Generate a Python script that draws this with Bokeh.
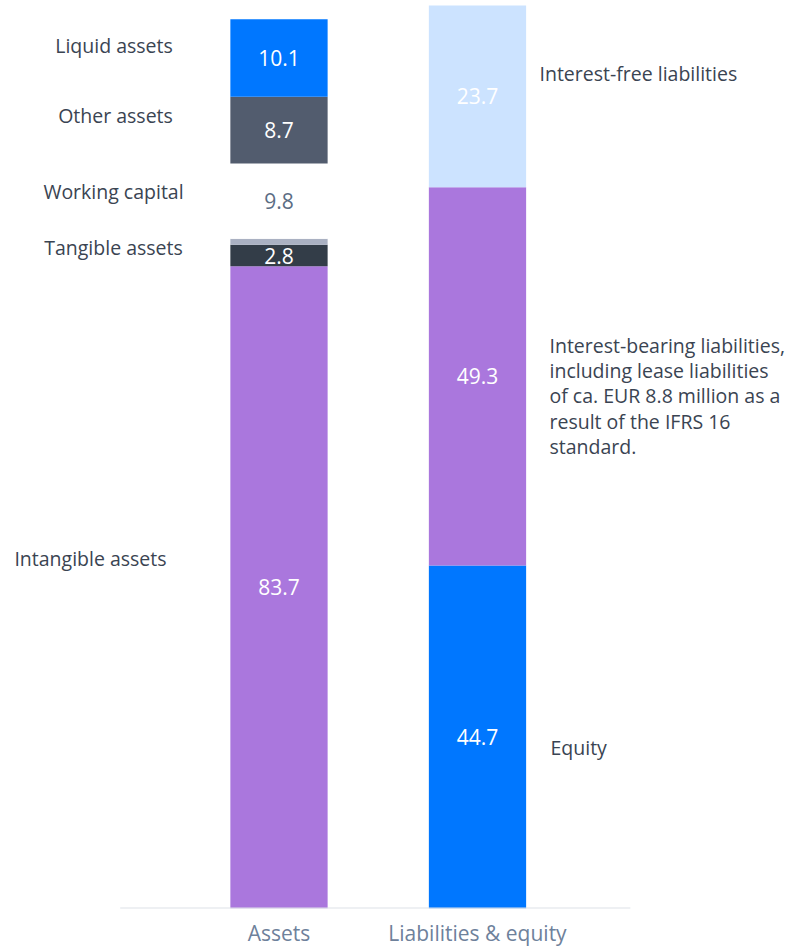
import numpy as np
from bokeh.plotting import figure
from bokeh.models import Range1d, FixedTicker, ColumnDataSource
from bokeh.core.properties import value
from bokeh.embed import file_html
from bokeh.resources import INLINE

# ---- data ----
categories = ["Assets", "Liabilities & equity"]

asset_names = ["Intangible assets", "Tangible assets", "", "Working capital", "Other assets", "Liquid assets"]
asset_values = [83.7, 2.8, 0.8, 9.8, 8.7, 10.1]
asset_value_labels = ["83.7", "2.8", "", "9.8", "8.7", "10.1"]

liab_names = ["Equity",
              "Interest-bearing liabilities,\nincluding lease liabilities\nof ca. EUR 8.8 million as a\nresult of the IFRS 16\nstandard.",
              "Interest-free liabilities"]
liab_values = [44.7, 49.3, 23.7]
liab_value_labels = ["44.7", "49.3", "23.7"]

# ---- styles ----
asset_colors = ["#aa77dd", "#333d48", "#aab1c2", "#ffffff", "#525c6e", "#0077ff"]
asset_value_colors = ["#ffffff", "#ffffff", "#ffffff", "#5b6d84", "#ffffff", "#ffffff"]
asset_name_dx = [-188.5, -165.5, 0, -165.5, -163.5, -165]
asset_name_dy = [-29, -8, 0, -9.6, -14.7, -12.6]

liab_colors = ["#0077ff", "#aa77dd", "#cce3ff"]
liab_name_dx = [73, 72, 62]
liab_name_dy = [10, 19.5, -23]

TXT = "#3a4452"
FONT = "Open Sans"

a_top = np.cumsum(asset_values)
a_bot = a_top - np.array(asset_values)
l_top = np.cumsum(liab_values)
l_bot = l_top - np.array(liab_values)

p = figure(frame_width=791, frame_height=908, output_backend="svg", toolbar_location=None,
           x_range=Range1d(-1.4030, 2.5819), y_range=Range1d(0, float(l_top[-1]) * 908 / 903),
           min_border_left=0, min_border_right=0, min_border_top=0, min_border_bottom=30,
           outline_line_color=None)
p.grid.visible = False
p.yaxis.visible = False

bw = 0.49
asrc = ColumnDataSource(dict(x=[0] * len(asset_values), top=a_top, bottom=a_bot, color=asset_colors,
                             mid=(a_top + a_bot) / 2, vlab=asset_value_labels, vcol=asset_value_colors,
                             name=asset_names, dx=asset_name_dx, dy=asset_name_dy))
lsrc = ColumnDataSource(dict(x=[1] * len(liab_values), top=l_top, bottom=l_bot, color=liab_colors,
                             mid=(l_top + l_bot) / 2, vlab=liab_value_labels,
                             name=liab_names, dx=liab_name_dx, dy=liab_name_dy))

p.vbar(x="x", top="top", bottom="bottom", width=bw, fill_color="color", line_color=None, source=asrc)
p.vbar(x="x", top="top", bottom="bottom", width=bw, fill_color="color", line_color=None, source=lsrc)

# baseline
p.segment(x0=[-0.8], y0=[0], x1=[1.77], y1=[0], line_color="#dde2e8", line_width=2)

# value labels
p.text(x="x", y="mid", text="vlab", text_color="vcol", text_font=value(FONT), text_font_size="21px",
       text_align="center", text_baseline="middle", source=asrc)
p.text(x="x", y="mid", text="vlab", text_color="#ffffff", text_font=value(FONT), text_font_size="21px",
       text_align="center", text_baseline="middle", source=lsrc)

# name labels
p.text(x="x", y="mid", text="name", x_offset="dx", y_offset="dy", text_color=TXT, text_font=value(FONT),
       text_font_size="19.5px", text_align="center", text_baseline="middle", source=asrc)
p.text(x="x", y="mid", text="name", x_offset="dx", y_offset="dy", text_color=TXT, text_font=value(FONT),
       text_font_size="19.5px", text_align="left", text_baseline="middle", text_line_height=0.93, source=lsrc)

ax = p.xaxis[0]
ax.ticker = FixedTicker(ticks=[0, 1])
ax.major_label_overrides = {0: categories[0], 1: categories[1]}
ax.axis_line_color = None
ax.major_tick_line_color = None
ax.minor_tick_line_color = None
ax.major_tick_out = 0
ax.major_label_standoff = 10
ax.major_label_text_font = FONT
ax.major_label_text_font_size = "21px"
ax.major_label_text_color = "#6e819b"

open("out.html", "w").write(file_html(p, INLINE))
